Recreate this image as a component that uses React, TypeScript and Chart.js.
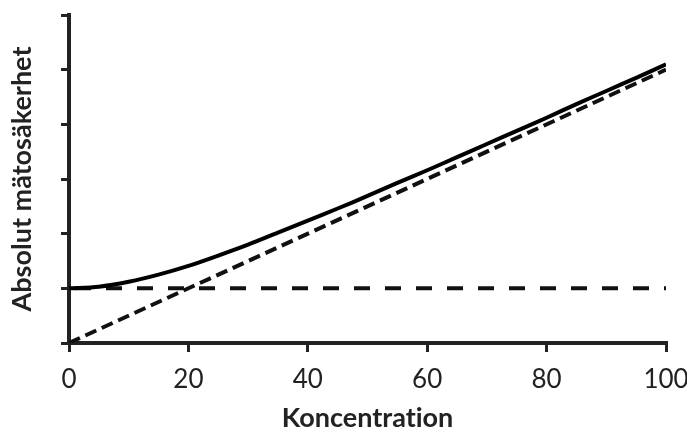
import React, { useEffect, useRef } from "react";
import { Chart, registerables } from "chart.js";

Chart.register(...registerables);

const xValues = [0, 5, 10, 15, 20, 25, 30, 35, 40, 45, 50, 55, 60, 65, 70, 75, 80, 85, 90, 95, 100];
const totalUncertainty = [1.0, 1.03, 1.12, 1.25, 1.41, 1.6, 1.8, 2.02, 2.24, 2.46, 2.69, 2.93, 3.16, 3.4, 3.64, 3.88, 4.12, 4.37, 4.61, 4.85, 5.1];
const constantX = [0, 100];
const constantY = [1, 1];
const proportionalX = [0, 100];
const proportionalY = [0, 5];
const xTicks = [0, 20, 40, 60, 80, 100];

const FONT = "Lato, 'Open Sans', sans-serif";

const noLigatures = {
  id: "noLigatures",
  beforeDraw(chart: any) {
    try {
      (chart.ctx as any).textRendering = "optimizeSpeed";
    } catch (e) {}
  },
};

export default function App() {
  const ref = useRef<HTMLCanvasElement | null>(null);
  useEffect(() => {
    document.body.style.margin = "0";
    const ctx = ref.current!;
    const chart = new Chart(ctx, {
      type: "line",
      data: {
        datasets: [
          {
            label: "total",
            data: xValues.map((x, i) => ({ x, y: totalUncertainty[i] })),
            borderColor: "#000",
            borderWidth: 4,
            pointRadius: 0,
            tension: 0.3,
            fill: false,
          },
          {
            label: "constant",
            data: constantX.map((x, i) => ({ x, y: constantY[i] })),
            borderColor: "#111",
            borderWidth: 4,
            borderDash: [16, 15],
            borderDashOffset: 25,
            pointRadius: 0,
            fill: false,
          },
          {
            label: "proportional",
            data: proportionalX.map((x, i) => ({ x, y: proportionalY[i] })),
            borderColor: "#111",
            borderWidth: 4,
            borderDash: [12, 6],
            pointRadius: 0,
            fill: false,
          },
        ],
      },
      options: {
        animation: false,
        responsive: true,
        maintainAspectRatio: false,
        layout: { padding: { top: 15, right: 0, left: 0, bottom: 0 } },
        plugins: { legend: { display: false }, tooltip: { enabled: false } },
        scales: {
          x: {
            type: "linear",
            min: 0,
            max: 100,
            afterBuildTicks: (s: any) => {
              s.ticks = xTicks.map((v) => ({ value: v }));
            },
            afterFit: (s: any) => {
              s.height = 86;
              s.paddingRight = 21;
            },
            ticks: {
              color: "#222",
              font: { family: FONT, size: 26 },
              padding: 12,
              maxRotation: 0,
            },
            grid: {
              drawOnChartArea: false,
              drawTicks: true,
              tickLength: 9,
              color: "#222",
              lineWidth: 3,
            },
            border: { display: true, color: "#222", width: 4 },
            title: {
              display: true,
              text: "Koncentration",
              color: "#222",
              font: { family: FONT, size: 27, weight: "bold", lineHeight: 1 },
              padding: { top: 0, bottom: -3 },
            },
          },
          y: {
            type: "linear",
            min: 0,
            max: 6,
            ticks: { display: false, stepSize: 1 },
            afterFit: (s: any) => {
              s.width = 69;
            },
            grid: {
              drawOnChartArea: false,
              drawTicks: true,
              tickLength: 8,
              color: "#222",
              lineWidth: 3,
            },
            border: { display: true, color: "#222", width: 4 },
            title: {
              display: true,
              text: "Absolut mätosäkerhet",
              color: "#222",
              font: { family: FONT, size: 27, weight: "bold", lineHeight: 1 },
              padding: { top: 9, bottom: 0 },
            },
          },
        },
      },
      plugins: [noLigatures],
    } as any);
    return () => chart.destroy();
  }, []);
  return (
    <div style={{ width: 687, height: 429, position: "relative" }}>
      <canvas ref={ref} />
    </div>
  );
}
